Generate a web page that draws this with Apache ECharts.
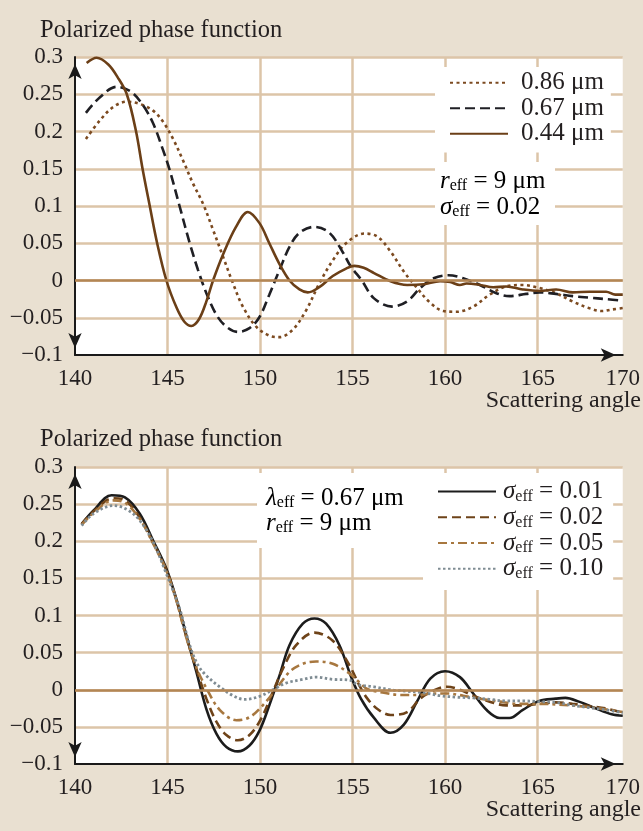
<!DOCTYPE html>
<html><head><meta charset="utf-8">
<script src="https://cdn.jsdelivr.net/npm/echarts@6/dist/echarts.min.js"></script>
<style>html,body{margin:0;padding:0;background:#e9e0d1}#c{width:643px;height:831px}</style>
</head><body><div id="c"></div>
<script>
// ---- tick labels ----
const xTickLabels = ['140','145','150','155','160','165','170'];
const yTickLabels = ['\u22120.1','\u22120.05','0','0.05','0.1','0.15','0.2','0.25','0.3'];

// ---- top panel (r_eff = 9 µm, sigma_eff = 0.02) ----
const topNames = ['0.86 \u03bcm','0.67 \u03bcm','0.44 \u03bcm'];
const top086X = [140.59,141.35,142.07,142.79,143.5,144.22,144.76,145.3,145.84,146.38,146.92,147.46,148.0,148.54,149.07,149.79,150.5,151.05,151.77,152.49,153.2,153.93,154.65,155.63,156.34,157.05,157.77,158.48,159.2,159.91,160.63,161.52,162.41,163.3,164.2,165.09,165.98,166.88,167.77,168.48,169.0,169.6];
const top086Y = [0.19,0.215,0.233,0.24,0.237,0.228,0.213,0.19,0.161,0.13,0.103,0.068,0.032,-0.004,-0.035,-0.062,-0.074,-0.076,-0.066,-0.04,-0.004,0.027,0.05,0.063,0.059,0.039,0.012,-0.01,-0.03,-0.041,-0.042,-0.035,-0.019,-0.008,-0.006,-0.01,-0.017,-0.028,-0.037,-0.041,-0.039,-0.037];
const top067X = [140.59,141.35,142.25,143.05,143.68,144.22,144.76,145.12,145.66,146.2,146.65,147.1,147.64,148.18,148.8,149.43,149.97,150.5,151.05,151.59,152.13,152.94,153.75,154.47,154.9,155.5,156.16,157.14,157.95,158.66,159.38,160.18,160.98,161.88,162.77,163.48,164.38,165.1,165.98,166.9,167.8,168.7,169.6];
const top067Y = [0.225,0.246,0.26,0.253,0.235,0.211,0.175,0.148,0.099,0.05,0.014,-0.017,-0.046,-0.062,-0.069,-0.064,-0.049,-0.019,0.014,0.045,0.064,0.072,0.064,0.038,0.019,0.0,-0.024,-0.035,-0.028,-0.01,0.003,0.007,0.003,-0.006,-0.017,-0.021,-0.018,-0.016,-0.018,-0.021,-0.023,-0.025,-0.027];
const top044X = [140.63,141.17,141.8,142.3,142.8,143.3,143.65,144.04,144.44,144.94,145.48,145.9,146.29,146.7,147.1,147.46,148.0,148.7,149.34,149.97,150.5,151.05,151.59,152.13,152.58,153.2,153.93,154.65,155.1,155.6,156.16,157.05,157.95,158.84,159.73,160.27,160.8,161.16,161.9,162.6,163.3,164.2,165.1,166.0,166.9,167.8,168.7,169.2,169.6];
const top044Y = [0.292,0.299,0.29,0.273,0.25,0.2,0.15,0.1,0.05,0.0,-0.036,-0.055,-0.061,-0.052,-0.028,0.0,0.035,0.072,0.092,0.077,0.05,0.022,0.0,-0.012,-0.016,-0.009,0.006,0.016,0.0196,0.017,0.01,-0.001,-0.006,-0.005,-0.001,-0.002,-0.006,-0.004,-0.006,-0.009,-0.008,-0.012,-0.014,-0.012,-0.016,-0.015,-0.015,-0.019,-0.019];

// ---- bottom panel (lambda = 0.67 µm, r_eff = 9 µm) ----
const bottomSigmas = ['0.01','0.02','0.05','0.10'];
const bot001X = [140.36,140.99,141.98,142.7,143.5,144.22,144.94,145.48,146.02,146.56,147.1,147.64,148.18,148.8,149.43,149.97,150.5,151.05,151.59,152.31,152.94,153.57,154.29,154.9,155.45,156.16,157.05,157.77,158.48,159.2,160.0,160.8,161.52,162.23,162.95,163.48,164.2,165.09,165.98,166.5,167.23,168.13,169.0,169.6];
const bot001Y = [0.223,0.241,0.262,0.259,0.237,0.201,0.163,0.122,0.073,0.024,-0.026,-0.059,-0.077,-0.083,-0.075,-0.055,-0.021,0.019,0.06,0.089,0.096,0.089,0.06,0.019,-0.012,-0.038,-0.058,-0.047,-0.016,0.015,0.025,0.017,-0.005,-0.027,-0.038,-0.038,-0.027,-0.015,-0.012,-0.011,-0.016,-0.025,-0.033,-0.035];
const bot002X = [140.36,140.99,142.07,142.7,143.5,144.22,144.94,145.48,146.02,146.56,147.1,147.64,148.18,148.8,149.43,150.06,150.69,151.23,151.95,152.94,153.93,154.83,155.36,155.8,156.4,157.05,157.95,158.66,159.38,160.09,160.8,161.52,162.41,163.3,164.2,165.09,165.98,166.88,167.77,168.66,169.6];
const bot002Y = [0.223,0.24,0.258,0.255,0.232,0.198,0.161,0.121,0.071,0.028,-0.012,-0.043,-0.061,-0.068,-0.061,-0.039,-0.003,0.028,0.06,0.077,0.066,0.033,0.006,-0.012,-0.027,-0.034,-0.03,-0.012,-0.001,0.004,0.0,-0.008,-0.016,-0.021,-0.021,-0.019,-0.017,-0.019,-0.022,-0.025,-0.031];
const bot005X = [140.36,140.99,142.07,142.7,143.5,144.22,144.94,145.48,146.02,146.56,147.1,147.82,148.72,149.43,150.15,150.87,151.59,152.31,153.03,153.93,154.83,155.36,155.8,156.7,157.59,158.48,159.38,160.09,160.98,161.88,162.95,164.0,165.09,166.16,167.23,168.3,169.6];
const bot005Y = [0.222,0.238,0.255,0.252,0.23,0.197,0.16,0.12,0.07,0.03,0.002,-0.027,-0.041,-0.037,-0.021,0.001,0.024,0.035,0.038,0.035,0.022,0.01,0.001,-0.004,-0.007,-0.007,-0.005,-0.005,-0.008,-0.012,-0.016,-0.019,-0.019,-0.02,-0.022,-0.025,-0.03];
const bot010X = [140.36,140.99,142.07,142.79,143.5,144.22,144.94,145.66,146.2,146.65,147.1,147.82,148.54,149.16,149.97,150.69,151.41,152.31,153.03,153.93,154.83,155.27,156.16,157.05,157.95,158.84,159.73,160.63,161.52,162.41,163.3,164.2,165.09,165.98,166.88,167.77,168.66,169.6];
const bot010Y = [0.221,0.237,0.248,0.243,0.228,0.199,0.156,0.109,0.06,0.033,0.019,0.004,-0.008,-0.013,-0.009,0.0,0.009,0.014,0.017,0.014,0.013,0.007,0.004,0.0,-0.002,-0.004,-0.008,-0.01,-0.011,-0.013,-0.015,-0.015,-0.016,-0.017,-0.021,-0.024,-0.027,-0.031];

const FONT = 'Liberation Serif';
const TXT = '#231f20';
const zip = (xs, ys) => xs.map((x, i) => [x, ys[i]]);

function xAxisCfg(gi) {
  return {
    gridIndex: gi, type: 'value', min: 140, max: 169.6, interval: 5,
    axisLine: { show: true, onZero: false, lineStyle: { color: '#1a1a1a', width: 2 },
      symbol: ['none', 'arrow'], symbolSize: [10, 15], symbolOffset: [0, -7] },
    axisTick: { show: false },
    axisLabel: { color: TXT, fontFamily: FONT, fontSize: 23, margin: 12,
      formatter: v => xTickLabels[Math.round((v - 140) / 5)] },
    splitLine: { show: true, showMinLine: false, showMaxLine: false, lineStyle: { color: '#dcc5a8', width: 2.5 } }
  };
}
function yAxisCfg(gi) {
  return {
    gridIndex: gi, type: 'value', min: -0.1, max: 0.3, interval: 0.05,
    axisLine: { show: true, onZero: false, lineStyle: { color: '#1a1a1a', width: 2 },
      symbol: ['arrow', 'arrow'], symbolSize: [10, 15], symbolOffset: [7, -7] },
    axisTick: { show: false },
    axisLabel: { color: TXT, fontFamily: FONT, fontSize: 23, margin: 12,
      formatter: v => yTickLabels[Math.round((v + 0.1) / 0.05)] },
    splitLine: { show: true, showMinLine: false, lineStyle: { color: '#dcc5a8', width: 2.5 } }
  };
}
function zeroLine(gi) {
  return { type: 'line', xAxisIndex: gi, yAxisIndex: gi, data: [], z: 1, silent: true,
    markLine: { silent: true, symbol: 'none', label: { show: false },
      lineStyle: { color: '#b38654', width: 2.5, type: 'solid' }, data: [{ yAxis: 0 }] } };
}
function lineSeries(name, gi, xs, ys, color, type, width) {
  return { name, type: 'line', xAxisIndex: gi, yAxisIndex: gi, data: zip(xs, ys),
    smooth: 0.35, symbol: 'none', z: 3,
    lineStyle: { color, type, width, cap: 'butt' }, itemStyle: { color } };
}
const sigName = s => '\u03c3eff = ' + s;
const richSub = {
  i: { fontFamily: FONT, fontSize: 25, fontStyle: 'italic', color: TXT, lineHeight: 26 },
  s: { fontFamily: FONT, fontSize: 16, color: TXT, lineHeight: 10, verticalAlign: 'bottom' },
  n: { fontFamily: FONT, fontSize: 25, color: TXT, lineHeight: 26 }
};
const richSubL = {
  i: Object.assign({}, richSub.i, { lineHeight: 26.5 }),
  s: richSub.s,
  n: Object.assign({}, richSub.n, { lineHeight: 26.5 })
};

const chart = echarts.init(document.getElementById('c'), null, { renderer: 'canvas' });
chart.setOption({
  backgroundColor: '#e9e0d1',
  animation: false,
  grid: [
    { left: 75, right: 19, top: 57, height: 298, show: true, backgroundColor: '#ffffff', borderWidth: 0 },
    { left: 75, right: 19, top: 467, height: 297, show: true, backgroundColor: '#ffffff', borderWidth: 0 }
  ],
  xAxis: [xAxisCfg(0), xAxisCfg(1)],
  yAxis: [yAxisCfg(0), yAxisCfg(1)],
  legend: [
    { data: topNames, left: 435, top: 67, orient: 'vertical', selectedMode: false,
      backgroundColor: '#ffffff', padding: [3, 7, 6, 14], itemGap: 0, itemWidth: 58, itemHeight: 14,
      itemStyle: { opacity: 0, borderWidth: 0 },
      textStyle: { fontFamily: FONT, fontSize: 25, color: TXT, lineHeight: 25.5, padding: [0, 0, 0, 8] } },
    { data: bottomSigmas.map(sigName), left: 423, top: 473, orient: 'vertical', selectedMode: false,
      backgroundColor: '#ffffff', padding: [6, 10, 8, 14], itemGap: 0, itemWidth: 58, itemHeight: 14,
      itemStyle: { opacity: 0, borderWidth: 0 },
      formatter: n => '{i|\u03c3}{s|eff}{n| = ' + n.split('= ')[1] + '}',
      textStyle: { fontFamily: FONT, fontSize: 25, color: TXT, padding: [0, 0, 0, 2], rich: richSubL } }
  ],
  series: [
    zeroLine(0), zeroLine(1),
    lineSeries(topNames[0], 0, top086X, top086Y, '#7c4a20', [3, 3.5], 2.6),
    lineSeries(topNames[1], 0, top067X, top067Y, '#1f1f24', [10, 5], 2.6),
    lineSeries(topNames[2], 0, top044X, top044Y, '#6b3f17', 'solid', 2.6),
    lineSeries(sigName(bottomSigmas[0]), 1, bot001X, bot001Y, '#1c1c1c', 'solid', 2.6),
    lineSeries(sigName(bottomSigmas[1]), 1, bot002X, bot002Y, '#6e4319', [9, 5], 2.6),
    lineSeries(sigName(bottomSigmas[2]), 1, bot005X, bot005Y, '#a7773f', [9, 4, 3, 4], 2.6),
    lineSeries(sigName(bottomSigmas[3]), 1, bot010X, bot010Y, '#7f8c93', [2.5, 2.5], 2.8)
  ],
  graphic: [
    { type: 'text', x: 40, y: 31, style: { text: 'Polarized phase function', font: '24.5px "Liberation Serif"', fill: TXT, verticalAlign: 'middle' } },
    { type: 'text', x: 40, y: 440, style: { text: 'Polarized phase function', font: '24.5px "Liberation Serif"', fill: TXT, verticalAlign: 'middle' } },
    { type: 'text', x: 641, y: 401, style: { text: 'Scattering angle', font: '24px "Liberation Serif"', fill: TXT, align: 'right', verticalAlign: 'middle' } },
    { type: 'text', x: 641, y: 810, style: { text: 'Scattering angle', font: '24px "Liberation Serif"', fill: TXT, align: 'right', verticalAlign: 'middle' } },
    { type: 'rect', shape: { x: 435, y: 162, width: 120, height: 63 }, style: { fill: '#ffffff' }, z: 5 },
    { type: 'text', x: 440, y: 181, z: 6, style: { text: '{i|r}{s|eff}{n| = 9 \u03bcm}', rich: richSub, verticalAlign: 'middle' } },
    { type: 'text', x: 440, y: 207, z: 6, style: { text: '{i|\u03c3}{s|eff}{n| = 0.02}', rich: richSub, verticalAlign: 'middle' } },
    { type: 'rect', shape: { x: 257, y: 473, width: 168, height: 75 }, style: { fill: '#ffffff' }, z: 5 },
    { type: 'text', x: 266, y: 498, z: 6, style: { text: '{i|\u03bb}{s|eff}{n| = 0.67 \u03bcm}', rich: richSub, verticalAlign: 'middle' } },
    { type: 'text', x: 266, y: 523, z: 6, style: { text: '{i|r}{s|eff}{n| = 9 \u03bcm}', rich: richSub, verticalAlign: 'middle' } }
  ]
});
</script></body></html>
